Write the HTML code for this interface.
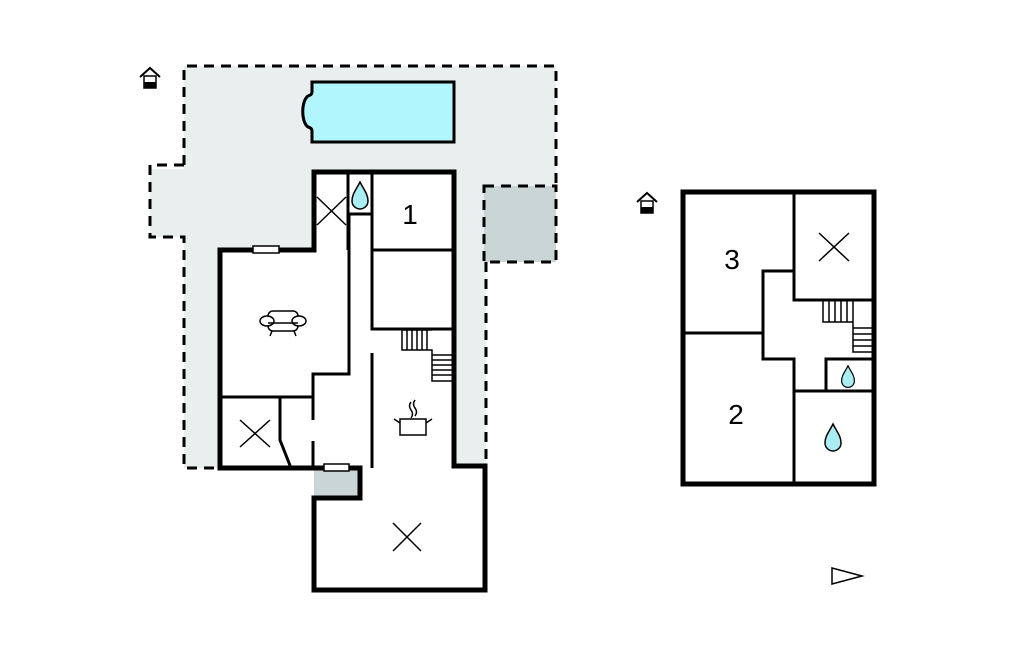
<!DOCTYPE html>
<html><head><meta charset="utf-8"><style>html,body{margin:0;padding:0;background:#fff}svg{display:block}</style></head><body>
<svg width="1024" height="652" viewBox="0 0 1024 652" xmlns="http://www.w3.org/2000/svg" font-family="Liberation Sans, sans-serif">
<defs>
<g id="house"><path d="M-10 -2 L0 -11 L10 -2" fill="none" stroke="#000" stroke-width="2"/><rect x="-6" y="-3" width="12" height="12" fill="#fff" stroke="#000" stroke-width="1.5"/><rect x="-6" y="3" width="12" height="6" fill="#000"/></g>
<path id="drop" d="M0 -14 C4 -6 8 -2 8 5 A8 8 0 0 1 -8 5 C-8 -2 -4 -6 0 -14 Z" fill="#aaeef4" stroke="#000" stroke-width="1.5"/>
</defs>
<path d="M184 66 H556 V262 H486 V468 H184 V237 H150 V169 H184 Z" fill="#e9eeee"/>
<g fill="none" stroke="#000" stroke-width="3" stroke-dasharray="10,7">
<path d="M184 165 V66 H556 V186"/>
<path d="M184 165 H150 V237 H184 V468 H216"/>
<path d="M486 262 V465"/>
</g>
<rect x="484" y="186" width="72" height="76" fill="#cad5d6" stroke="#000" stroke-width="3" stroke-dasharray="10,7"/>
<path d="M312 82 H454 V142 H312 V131 Q312 128 308 127 C301 122 301 101 308 96 Q312 95 312 92 Z" fill="#b1f6fc" stroke="#000" stroke-width="3"/>
<path d="M314 172 H454 V468 H486 V591 H314 V498 H360 V468 H220 V250 H314 Z" fill="#fff"/>
<rect x="314" y="470" width="46" height="28" fill="#cad5d6"/>
<g fill="none" stroke="#000" stroke-width="3">
<path d="M348 172 V250"/>
<path d="M372 172 V329 H454"/>
<path d="M372 250 H454"/>
<path d="M348 214 H372"/>
<path d="M349 214 V374 H313 V420"/>
<path d="M313 441 V468"/>
<path d="M372 353 V468"/>
<path d="M220 397 H313"/>
<path d="M280 397 V440 L291 468"/>
</g>
<g fill="none" stroke="#000" stroke-width="1.5">
<path d="M317 197 L346 225 M346 197 L317 225"/>
<path d="M240 420 L270 447 M270 420 L240 447"/>
<path d="M393 523 L421 551 M421 523 L393 551"/>
<path d="M402 330 V350 H432 V381 H452 M402 330 H432"/>
<path d="M407 330V350M412 330V350M417 330V350M422 330V350M427 330V350"/>
<path d="M432 355H452M432 360H452M432 365H452M432 370H452M432 375H452"/>
</g>
<path d="M314 250 V172 H454 V466 H485 V590 H314 V498 H360 V468 H220 V250 Z" fill="none" stroke="#000" stroke-width="5"/>
<rect x="253" y="246" width="26" height="7" fill="#fff" stroke="#000" stroke-width="1.5"/>
<rect x="324" y="464" width="25" height="7" fill="#fff" stroke="#000" stroke-width="1.5"/>
<use href="#drop" x="360" y="196"/>
<text x="410" y="224" font-size="28" text-anchor="middle">1</text>
<g fill="#fff" stroke="#000" stroke-width="1.5">
<rect x="268" y="311" width="30" height="20" rx="5"/>
<ellipse cx="267" cy="321" rx="7" ry="5"/><ellipse cx="299" cy="321" rx="7" ry="5"/>
<path d="M268 323 H298 M272 331 L270 336 M294 331 L296 336" fill="none"/>
</g>
<g fill="#fff" stroke="#000" stroke-width="1.5">
<rect x="400" y="419" width="26" height="16"/>
<path d="M400 423 L394 419 M426 423 L432 419 M411 402 q-3 4 0 8 q3 4 0 8 M415 400 q-3 4 0 8 q3 4 0 8" fill="none"/>
</g>
<use href="#house" x="150" y="79"/>
<rect x="683" y="192" width="191" height="292" fill="#fff" stroke="#000" stroke-width="5"/>
<g fill="none" stroke="#000" stroke-width="3">
<path d="M794 192 V300 H874"/>
<path d="M683 333 H763"/>
<path d="M794 271 H763 V359 H794 V484"/>
<path d="M826 391 V359 H874"/>
<path d="M794 391 H874"/>
</g>
<g fill="none" stroke="#000" stroke-width="1.5">
<path d="M819 233 L849 261 M849 233 L819 261"/>
<path d="M823 301 V322 H853 V352 H874 M853 301 V322"/>
<path d="M829 301V322M835 301V322M841 301V322M847 301V322"/>
<path d="M853 328H874M853 334H874M853 340H874M853 346H874"/>
</g>
<use href="#drop" x="848" y="377" transform="translate(848 377) scale(0.8) translate(-848 -377)"/>
<use href="#drop" x="833" y="438"/>
<text x="732" y="269" font-size="28" text-anchor="middle">3</text>
<text x="736" y="424" font-size="28" text-anchor="middle">2</text>
<use href="#house" x="647" y="204"/>
<path d="M832 568 L862 576 L832 584 Z" fill="#fff" stroke="#000" stroke-width="1.5"/>
</svg>
</body></html>
